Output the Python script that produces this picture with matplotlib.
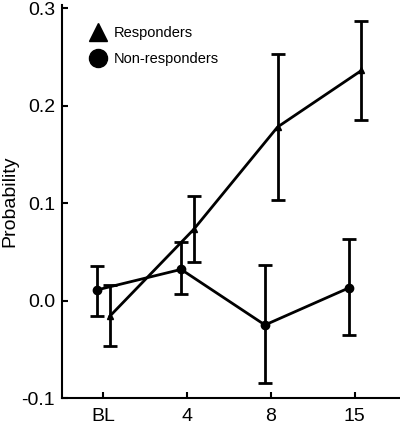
import matplotlib
matplotlib.use("Agg")
import matplotlib.pyplot as plt
from matplotlib.lines import Line2D
import numpy as np

plt.rcParams['font.family'] = ['Liberation Sans', 'DejaVu Sans']

# data
sessions = ["BL", "4", "8", "15"]

resp_mean = [-0.016, 0.073, 0.178, 0.236]
resp_low = [-0.047, 0.040, 0.103, 0.185]
resp_high = [0.016, 0.107, 0.253, 0.287]

nonresp_mean = [0.011, 0.032, -0.025, 0.013]
nonresp_low = [-0.016, 0.007, -0.085, -0.035]
nonresp_high = [0.035, 0.060, 0.036, 0.063]

x = np.arange(len(sessions))

fig = plt.figure(figsize=(4.0, 4.29), dpi=100)
ax = fig.add_axes([0.155, 0.072, 0.845, 0.916])

# responders (shifted right)
r_mean = np.array(resp_mean)
r_err = [r_mean - np.array(resp_low), np.array(resp_high) - r_mean]
ax.errorbar(x + 0.08, r_mean, yerr=r_err, color="black", lw=2, marker="^",
            ms=5, capsize=5, capthick=2, elinewidth=2)

# non-responders (shifted left)
n_mean = np.array(nonresp_mean)
n_err = [n_mean - np.array(nonresp_low), np.array(nonresp_high) - n_mean]
ax.errorbar(x - 0.07, n_mean, yerr=n_err, color="black", lw=2, marker="o",
            ms=6, capsize=5, capthick=2, elinewidth=2)

ax.set_xlim(-0.49, 3.54)
ax.set_ylim(-0.1, 0.303)
ax.set_xticks(x)
ax.set_xticklabels(sessions)
ax.set_yticks([-0.1, 0.0, 0.1, 0.2, 0.3])
ax.set_yticklabels(["-0.1", "0.0", "0.1", "0.2", "0.3"])
ax.tick_params(direction="in", length=4, width=1.5, labelsize=14)
ax.tick_params(axis="x", pad=7)
ax.tick_params(axis="y", pad=5)
ax.spines["top"].set_visible(False)
ax.spines["right"].set_visible(False)
ax.spines["left"].set_linewidth(1.5)
ax.spines["bottom"].set_linewidth(1.5)
ax.set_ylabel("Probability", fontsize=14, labelpad=2)

handles = [Line2D([], [], color="black", marker="^", ls="none", ms=13),
           Line2D([], [], color="black", marker="o", ls="none", ms=13)]
ax.legend(handles, ["Responders", "Non-responders"], loc="upper left",
          bbox_to_anchor=(0.035, 0.98), frameon=False, fontsize=10.5,
          handletextpad=0.35, labelspacing=0.82, handlelength=1.5)

fig.savefig("out.png", dpi=100)
